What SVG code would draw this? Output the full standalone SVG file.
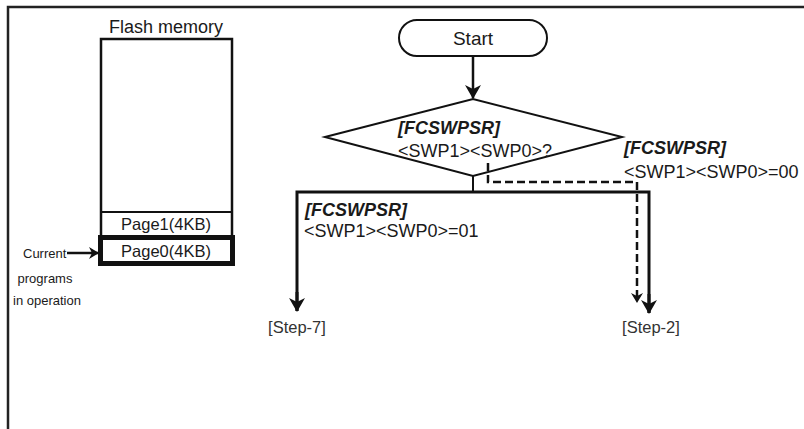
<svg xmlns="http://www.w3.org/2000/svg" width="804" height="429" viewBox="0 0 804 429">
<style>
text{font-family:"Liberation Sans",Arial,sans-serif;fill:#1a1a1a}
.t18{font-size:18px}
.bi{font-size:18px;font-weight:bold;font-style:italic}
.sm{font-size:13px}
.step{font-size:16.5px;fill:#333}
.ln{stroke:#111;fill:none}
</style>
<defs>
<marker id="ah" markerWidth="10" markerHeight="12" refX="9" refY="6" orient="auto" markerUnits="userSpaceOnUse">
<path d="M0,0 L10,6 L0,12 L3,6 Z" fill="#111"/>
</marker>
<marker id="ahs" markerWidth="10" markerHeight="12" refX="9" refY="6" orient="auto" markerUnits="userSpaceOnUse">
<path d="M0,0 L10,6 L0,12 L3,6 Z" fill="#111"/>
</marker>
<marker id="ahb" markerWidth="14" markerHeight="16" refX="13" refY="8" orient="auto" markerUnits="userSpaceOnUse">
<path d="M0,0 L14,8 L0,16 L4,8 Z" fill="#111"/>
</marker>
</defs>
<rect width="804" height="429" fill="#fff"/>
<g id="frame">
<path d="M8,429 V7 H804" stroke="#222" stroke-width="2.5" fill="none"/>
</g>
<g id="flash">
<text x="166" y="33" text-anchor="middle" style="font-size:18px">Flash memory</text>
<rect x="101" y="39" width="131" height="198" class="ln" stroke-width="2.5"/>
<line x1="101" y1="212" x2="232" y2="212" class="ln" stroke-width="2"/>
<text x="166" y="230" text-anchor="middle" style="font-size:16.5px">Page1(4KB)</text>
</g>
<g id="page0">
<rect x="100.5" y="237.5" width="132" height="26" fill="#fff" stroke="#111" stroke-width="5"/>
<text x="166" y="257" text-anchor="middle" style="font-size:16.5px">Page0(4KB)</text>
</g>
<g id="current">
<text x="23" y="258" class="sm">Current</text>
<text x="45" y="283" class="sm" text-anchor="middle">programs</text>
<text x="13" y="305" class="sm">in operation</text>
</g>
<g id="start">
<rect x="399" y="20" width="148" height="36" rx="18" ry="18" fill="#fff" stroke="#111" stroke-width="2"/>
<text x="473" y="45" text-anchor="middle" style="font-size:19px">Start</text>
</g>
<g id="decision">
<polygon points="325,137 473,99 622,137 473,176" fill="#fff" stroke="#111" stroke-width="2"/>
<text x="398" y="134" class="bi">[FCSWPSR]</text>
<text x="398" y="157" class="t18">&lt;SWP1&gt;&lt;SWP0&gt;?</text>
</g>
<g id="labels">
<text x="624" y="154" class="bi">[FCSWPSR]</text>
<text x="624" y="178" class="t18">&lt;SWP1&gt;&lt;SWP0&gt;=00</text>
<text x="305" y="216" class="bi">[FCSWPSR]</text>
<text x="304" y="237" class="t18">&lt;SWP1&gt;&lt;SWP0&gt;=01</text>
<text x="297" y="333" text-anchor="middle" class="step">[Step-7]</text>
<text x="651" y="333" text-anchor="middle" class="step">[Step-2]</text>
</g>
<g id="connectors">
<line x1="67" y1="253" x2="98" y2="253" class="ln" stroke-width="2.5" marker-end="url(#ah)"/>
<line x1="473" y1="56" x2="473" y2="98" class="ln" stroke-width="2.5" marker-end="url(#ahb)"/>
<line x1="473" y1="176" x2="473" y2="192" class="ln" stroke-width="2"/>
<path d="M297,311 V192 H649 V313" class="ln" stroke-width="3"/>
<line x1="297" y1="292" x2="297" y2="311" class="ln" stroke-width="3" marker-end="url(#ahb)"/>
<line x1="649" y1="294" x2="649" y2="313" class="ln" stroke-width="3" marker-end="url(#ahb)"/>
<path d="M488,163 V182 H637 V302" class="ln" stroke-width="2.5" stroke-dasharray="8,4" marker-end="url(#ahs)"/>
</g>
</svg>
